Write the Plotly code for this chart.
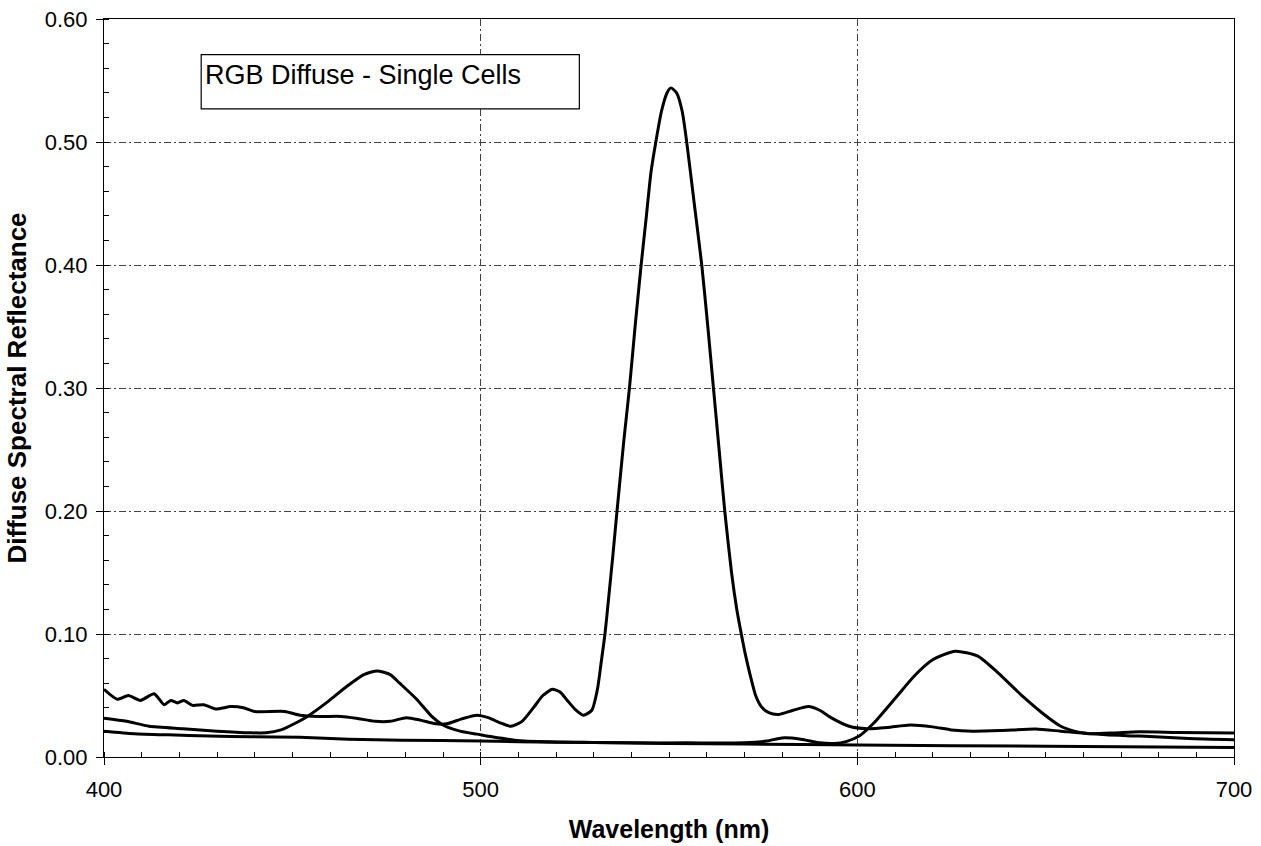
import plotly.graph_objects as go

# ---------------- data ----------------
blue_nm = [400, 406, 412, 421, 430, 439, 443, 447, 450.5, 454, 459, 464.5, 469, 472.5, 476,
           478.5, 483, 487, 490, 494.5, 499, 503, 509, 518, 530, 550, 570, 600, 650, 700]
blue_r = [0.0315, 0.029, 0.025, 0.023, 0.021, 0.0197, 0.0197, 0.022, 0.027, 0.033, 0.044, 0.0575,
          0.067, 0.070, 0.067, 0.060, 0.047, 0.033, 0.026, 0.021, 0.0186, 0.0164, 0.0137, 0.0123,
          0.0118, 0.011, 0.0105, 0.0097, 0.0088, 0.0078]

red_nm = [400, 408, 417, 428, 439, 452, 465, 479, 500, 520, 540, 555, 570, 576, 580, 585, 590,
          594, 597, 600.5, 604.5, 610, 615, 620, 626, 632, 637.5, 644, 649, 654, 659, 666, 675,
          688, 700]
red_r = [0.021, 0.019, 0.018, 0.017, 0.0164, 0.016, 0.0145, 0.0137, 0.013, 0.012, 0.0115, 0.0115,
         0.0115, 0.013, 0.0155, 0.0145, 0.0115, 0.011, 0.0125, 0.017, 0.028, 0.0475, 0.0655, 0.079,
         0.086, 0.082, 0.068, 0.049, 0.036, 0.025, 0.020, 0.018, 0.017, 0.015, 0.014]

green_nm = [400, 403.5, 406.5, 409.7, 413.3, 416, 417.7, 419.5, 421.2, 423.5, 426.5, 429.6, 433.6,
            437, 440, 448, 452, 457, 463, 467, 472, 476, 480.3, 484, 488, 491, 495, 499, 502, 505,
            508, 511, 514, 516.5, 519, 521, 523, 525, 527.3, 529.5, 531, 532, 533, 534, 535.1,
            536.2, 538, 539.5, 541, 542.6, 544, 545.2, 546.5, 548, 549.5, 550.5, 552, 553.5,
            554.7, 556.7, 558.7, 560.3, 561.8, 563.3, 564.8, 566.6, 568, 569.2, 570.3, 571.6,
            573, 574.5, 576.5, 579, 583, 587, 590, 593, 597.8, 602.6, 608, 614, 620, 625, 630.6,
            638, 647.4, 654, 661.5, 668, 674.8, 685, 700]
green_r = [0.055, 0.047, 0.050, 0.046, 0.0515, 0.0425, 0.046, 0.044, 0.046, 0.042, 0.0425, 0.039,
           0.041, 0.040, 0.037, 0.037, 0.034, 0.033, 0.033, 0.0315, 0.029, 0.029, 0.032, 0.030,
           0.027, 0.027, 0.031, 0.034, 0.032, 0.028, 0.025, 0.029, 0.040, 0.050, 0.055, 0.053,
           0.046, 0.039, 0.034, 0.038, 0.055, 0.077, 0.100, 0.130, 0.164, 0.200, 0.257, 0.300,
           0.350, 0.400, 0.440, 0.475, 0.500, 0.525, 0.540, 0.544, 0.540, 0.525, 0.500, 0.450,
           0.400, 0.350, 0.300, 0.250, 0.200, 0.150, 0.120, 0.100, 0.083, 0.066, 0.050, 0.041,
           0.036, 0.0345, 0.038, 0.041, 0.038, 0.032, 0.025, 0.023, 0.024, 0.026, 0.0245, 0.022,
           0.021, 0.0215, 0.0227, 0.021, 0.019, 0.0195, 0.0205, 0.020, 0.0195]

x_ticks = [400, 500, 600, 700]
y_ticks = [0.00, 0.10, 0.20, 0.30, 0.40, 0.50, 0.60]
y_tick_text = ["0.00", "0.10", "0.20", "0.30", "0.40", "0.50", "0.60"]
chart_label = "RGB Diffuse - Single Cells"
x_title = "Wavelength (nm)"
y_title = "Diffuse Spectral Reflectance"

FONT = "Arial, Liberation Sans, sans-serif"

fig = go.Figure()
for name, xs, ys in [("Blue", blue_nm, blue_r), ("Red", red_nm, red_r), ("Green", green_nm, green_r)]:
    fig.add_trace(go.Scatter(x=xs, y=ys, mode="lines", name=name,
                             line=dict(color="black", width=3, shape="spline", smoothing=0.6),
                             showlegend=False))

axis_common = dict(
    showline=True, linecolor="black", linewidth=1, mirror=True,
    showgrid=True, gridcolor="#444444", gridwidth=1, griddash="7px,3px,2px,3px",
    zeroline=False, ticks="outside", ticklen=7, tickcolor="black", tickwidth=1,
    tickfont=dict(family=FONT, size=22, color="black"), automargin=False,
)

fig.update_xaxes(**axis_common, range=[400, 700], tickvals=x_ticks, ticklabelstandoff=6,
                 minor=dict(dtick=10, ticks="inside", ticklen=5, tickcolor="black", showgrid=False),
                 title=dict(text="<b>" + x_title + "</b>", font=dict(family=FONT, size=25, color="black"),
                            standoff=19))
fig.update_yaxes(**axis_common, range=[0, 0.60], tickvals=y_ticks, ticktext=y_tick_text,
                 ticklabelstandoff=4,
                 minor=dict(dtick=0.02, ticks="inside", ticklen=5, tickcolor="black", showgrid=False),
                 title=dict(text="<b>" + y_title + "</b>", font=dict(family=FONT, size=26, color="black"),
                            standoff=10))

fig.add_shape(type="rect", xref="x", yref="y", x0=425.8, x1=526.2, y0=0.527, y1=0.571,
              line=dict(color="black", width=1.2), fillcolor="white", layer="above")
fig.add_annotation(x=426.3, y=0.5685, xref="x", yref="y", text=chart_label, showarrow=False,
                   xanchor="left", yanchor="top", font=dict(family=FONT, size=27, color="black"))

fig.update_layout(width=1261, height=846, plot_bgcolor="white", paper_bgcolor="white",
                  margin=dict(l=104, r=27, t=19, b=89, autoexpand=False))

fig.write_html("out.html", config={"displayModeBar": False},
               post_script="document.body.style.margin='0';document.body.style.padding='0';"
                           "document.documentElement.style.overflow='hidden';")
